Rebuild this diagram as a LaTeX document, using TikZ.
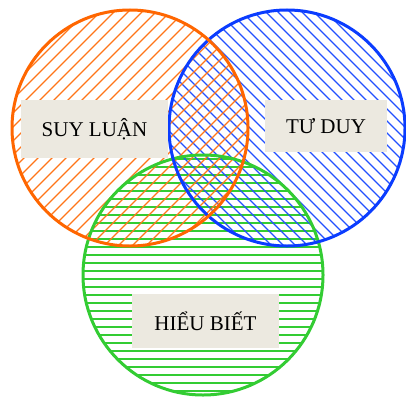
\documentclass[tikz,border=0pt]{standalone}
\usepackage{fontspec}
\setmainfont{Liberation Serif}
\definecolor{cor}{HTML}{FF6600}
\definecolor{cbl}{HTML}{0A3CFF}
\definecolor{cgr}{HTML}{33CC33}
\definecolor{cbox}{HTML}{ECE9E0}
\tikzset{
  hatchline/.style={line width=1.3pt},
  rim/.style={line width=3pt},
  labelbox/.style={rectangle, fill=cbox, inner sep=0pt, font=\fontsize{21}{25}\selectfont}
}
\begin{document}
\begin{tikzpicture}[x=1pt,y=-1pt]
\useasboundingbox (0,0) rectangle (406,396);
% green hatch
\begin{scope}
\clip (203,275) circle (120pt);
\foreach \k in {151,159,...,400} \draw[hatchline,cgr] (60,\k) -- (340,\k);
\end{scope}
% blue hatch
\begin{scope}
\clip (287,128) circle (118pt);
\foreach \k in {-250,-238,...,420} \draw[hatchline,cbl!90] (\k,0) -- ++(400,400);
\end{scope}
% orange hatch
\begin{scope}
\clip (130,128) circle (118pt);
\foreach \k in {0,14,...,650} \draw[hatchline,cor!90] (\k,0) -- ++(-400,400);
\end{scope}
% rims
\draw[rim,cgr] (203,275) circle (120pt);
\draw[rim,cbl] (287,128) circle (118pt);
\draw[rim,cor] (130,128) circle (118pt);
% labels
\node[labelbox, minimum width=147pt, minimum height=58pt] (suy) at (94.5,129) {SUY LUẬN};
\node[labelbox, minimum width=122pt, minimum height=52pt] (tu) at (326,126) {TƯ DUY};
\node[labelbox, minimum width=147pt, minimum height=54pt] (hieu) at (205.5,321) {HIỂU BIẾT};
\end{tikzpicture}
\end{document}
